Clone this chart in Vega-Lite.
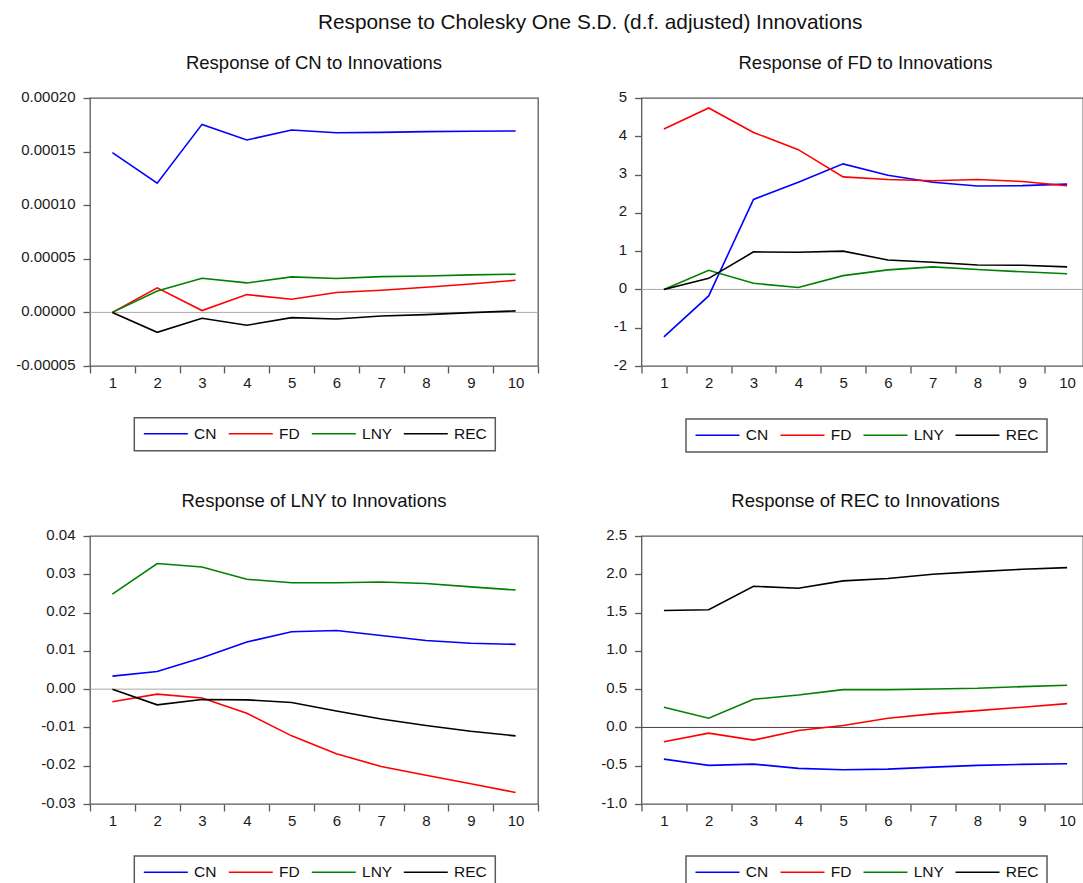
{
  "$schema": "https://vega.github.io/schema/vega-lite/v6.json",
  "autosize": {"type": "none"},
  "padding": {"left": 90, "top": 98, "right": 993, "bottom": 785},
  "title": {"text": "Response to Cholesky One S.D. (d.f. adjusted) Innovations", "fontSize": 20.8, "anchor": "start", "frame": "group", "dx": 228, "offset": 19},
  "config": {
    "font": "Liberation Sans",
    "view": {"stroke": "#5a5a5a", "strokeWidth": 1.3},
    "axis": {"grid": false, "domain": false, "tickColor": "#5a5a5a", "tickWidth": 1.3, "tickSize": 7, "labelFontSize": 15, "labelColor": "#1a1a1a", "labelFont": "Liberation Sans", "labelOverlap": false, "labelBound": false, "title": null},
    "axisY": {"labelPadding": 8, "labelOffset": -2},
    "axisX": {"labelPadding": 2, "labelFlush": false, "labelOffset": 22.4},
    "title": {"fontSize": 18.5, "fontWeight": "normal", "color": "#111111", "font": "Liberation Sans"},
    "legend": {"orient": "none", "direction": "horizontal", "columns": 4, "symbolType": "M-4,0H4", "symbolSize": 121, "symbolStrokeWidth": 1.5, "symbolOffset": 15.75, "labelOffset": 20.5, "columnPadding": 8, "padding": 8, "strokeColor": "#5a5a5a", "strokeWidth": 1.5, "labelFontSize": 15.5, "labelColor": "#111111", "labelFont": "Liberation Sans"}
  },
  "datasets": {
    "cn": [
      {"h":1,"s":"CN","v":0.000149},{"h":2,"s":"CN","v":0.0001206},{"h":3,"s":"CN","v":0.0001754},{"h":4,"s":"CN","v":0.0001608},{"h":5,"s":"CN","v":0.0001701},{"h":6,"s":"CN","v":0.0001676},{"h":7,"s":"CN","v":0.0001679},{"h":8,"s":"CN","v":0.0001686},{"h":9,"s":"CN","v":0.000169},{"h":10,"s":"CN","v":0.0001692},
      {"h":1,"s":"FD","v":0},{"h":2,"s":"FD","v":0.0000229},{"h":3,"s":"FD","v":0.0000017},{"h":4,"s":"FD","v":0.0000166},{"h":5,"s":"FD","v":0.0000123},{"h":6,"s":"FD","v":0.0000185},{"h":7,"s":"FD","v":0.0000207},{"h":8,"s":"FD","v":0.0000234},{"h":9,"s":"FD","v":0.0000265},{"h":10,"s":"FD","v":0.00003},
      {"h":1,"s":"LNY","v":0},{"h":2,"s":"LNY","v":0.00002},{"h":3,"s":"LNY","v":0.0000319},{"h":4,"s":"LNY","v":0.0000275},{"h":5,"s":"LNY","v":0.0000331},{"h":6,"s":"LNY","v":0.0000316},{"h":7,"s":"LNY","v":0.0000334},{"h":8,"s":"LNY","v":0.000034},{"h":9,"s":"LNY","v":0.000035},{"h":10,"s":"LNY","v":0.0000356},
      {"h":1,"s":"REC","v":0},{"h":2,"s":"REC","v":-0.0000186},{"h":3,"s":"REC","v":-0.0000055},{"h":4,"s":"REC","v":-0.000012},{"h":5,"s":"REC","v":-0.0000049},{"h":6,"s":"REC","v":-0.0000061},{"h":7,"s":"REC","v":-0.0000033},{"h":8,"s":"REC","v":-0.0000021},{"h":9,"s":"REC","v":-0.0000002},{"h":10,"s":"REC","v":0.0000014}
    ],
    "fd": [
      {"h":1,"s":"CN","v":-1.24},{"h":2,"s":"CN","v":-0.17},{"h":3,"s":"CN","v":2.35},{"h":4,"s":"CN","v":2.8},{"h":5,"s":"CN","v":3.28},{"h":6,"s":"CN","v":2.98},{"h":7,"s":"CN","v":2.8},{"h":8,"s":"CN","v":2.7},{"h":9,"s":"CN","v":2.71},{"h":10,"s":"CN","v":2.75},
      {"h":1,"s":"FD","v":4.19},{"h":2,"s":"FD","v":4.74},{"h":3,"s":"FD","v":4.1},{"h":4,"s":"FD","v":3.65},{"h":5,"s":"FD","v":2.94},{"h":6,"s":"FD","v":2.87},{"h":7,"s":"FD","v":2.84},{"h":8,"s":"FD","v":2.87},{"h":9,"s":"FD","v":2.82},{"h":10,"s":"FD","v":2.71},
      {"h":1,"s":"LNY","v":0},{"h":2,"s":"LNY","v":0.5},{"h":3,"s":"LNY","v":0.16},{"h":4,"s":"LNY","v":0.05},{"h":5,"s":"LNY","v":0.36},{"h":6,"s":"LNY","v":0.51},{"h":7,"s":"LNY","v":0.59},{"h":8,"s":"LNY","v":0.52},{"h":9,"s":"LNY","v":0.46},{"h":10,"s":"LNY","v":0.41},
      {"h":1,"s":"REC","v":0},{"h":2,"s":"REC","v":0.29},{"h":3,"s":"REC","v":0.98},{"h":4,"s":"REC","v":0.97},{"h":5,"s":"REC","v":1.0},{"h":6,"s":"REC","v":0.77},{"h":7,"s":"REC","v":0.71},{"h":8,"s":"REC","v":0.64},{"h":9,"s":"REC","v":0.63},{"h":10,"s":"REC","v":0.59}
    ],
    "lny": [
      {"h":1,"s":"CN","v":0.0034},{"h":2,"s":"CN","v":0.0046},{"h":3,"s":"CN","v":0.0082},{"h":4,"s":"CN","v":0.0123},{"h":5,"s":"CN","v":0.015},{"h":6,"s":"CN","v":0.0153},{"h":7,"s":"CN","v":0.014},{"h":8,"s":"CN","v":0.0127},{"h":9,"s":"CN","v":0.012},{"h":10,"s":"CN","v":0.0117},
      {"h":1,"s":"FD","v":-0.0033},{"h":2,"s":"FD","v":-0.0013},{"h":3,"s":"FD","v":-0.0023},{"h":4,"s":"FD","v":-0.0063},{"h":5,"s":"FD","v":-0.0122},{"h":6,"s":"FD","v":-0.0169},{"h":7,"s":"FD","v":-0.0202},{"h":8,"s":"FD","v":-0.0225},{"h":9,"s":"FD","v":-0.0247},{"h":10,"s":"FD","v":-0.027},
      {"h":1,"s":"LNY","v":0.0248},{"h":2,"s":"LNY","v":0.0328},{"h":3,"s":"LNY","v":0.0319},{"h":4,"s":"LNY","v":0.0287},{"h":5,"s":"LNY","v":0.0278},{"h":6,"s":"LNY","v":0.0278},{"h":7,"s":"LNY","v":0.028},{"h":8,"s":"LNY","v":0.0276},{"h":9,"s":"LNY","v":0.0267},{"h":10,"s":"LNY","v":0.0259},
      {"h":1,"s":"REC","v":0},{"h":2,"s":"REC","v":-0.0041},{"h":3,"s":"REC","v":-0.0027},{"h":4,"s":"REC","v":-0.0028},{"h":5,"s":"REC","v":-0.0035},{"h":6,"s":"REC","v":-0.0057},{"h":7,"s":"REC","v":-0.0078},{"h":8,"s":"REC","v":-0.0095},{"h":9,"s":"REC","v":-0.011},{"h":10,"s":"REC","v":-0.0122}
    ],
    "rec": [
      {"h":1,"s":"CN","v":-0.414},{"h":2,"s":"CN","v":-0.496},{"h":3,"s":"CN","v":-0.479},{"h":4,"s":"CN","v":-0.535},{"h":5,"s":"CN","v":-0.553},{"h":6,"s":"CN","v":-0.544},{"h":7,"s":"CN","v":-0.518},{"h":8,"s":"CN","v":-0.496},{"h":9,"s":"CN","v":-0.483},{"h":10,"s":"CN","v":-0.474},
      {"h":1,"s":"FD","v":-0.188},{"h":2,"s":"FD","v":-0.075},{"h":3,"s":"FD","v":-0.166},{"h":4,"s":"FD","v":-0.04},{"h":5,"s":"FD","v":0.025},{"h":6,"s":"FD","v":0.12},{"h":7,"s":"FD","v":0.177},{"h":8,"s":"FD","v":0.22},{"h":9,"s":"FD","v":0.264},{"h":10,"s":"FD","v":0.311},
      {"h":1,"s":"LNY","v":0.264},{"h":2,"s":"LNY","v":0.12},{"h":3,"s":"LNY","v":0.368},{"h":4,"s":"LNY","v":0.424},{"h":5,"s":"LNY","v":0.494},{"h":6,"s":"LNY","v":0.494},{"h":7,"s":"LNY","v":0.502},{"h":8,"s":"LNY","v":0.511},{"h":9,"s":"LNY","v":0.533},{"h":10,"s":"LNY","v":0.55},
      {"h":1,"s":"REC","v":1.527},{"h":2,"s":"REC","v":1.536},{"h":3,"s":"REC","v":1.844},{"h":4,"s":"REC","v":1.818},{"h":5,"s":"REC","v":1.914},{"h":6,"s":"REC","v":1.944},{"h":7,"s":"REC","v":2.0},{"h":8,"s":"REC","v":2.035},{"h":9,"s":"REC","v":2.065},{"h":10,"s":"REC","v":2.087}
    ]
  },
  "columns": 2,
  "bounds": "flush",
  "spacing": {"row": 170, "column": 103.5},
  "resolve": {"scale": {"x": "independent", "y": "independent", "color": "independent"}, "legend": {"color": "independent"}},
  "concat": [
    {
      "width": 448, "height": 268,
      "title": {"text": "Response of CN to Innovations", "frame": "group", "anchor": "middle", "offset": 17},
      "layer": [
        {"data": {"values": [{}]}, "mark": {"type": "rule", "color": "#a8a8a8", "strokeWidth": 1},
          "encoding": {"y": {"datum": 0, "type": "quantitative", "scale": {"domain": [-0.00005, 0.0002], "nice": false, "zero": false}, "axis": {"values": [-0.00005, 0, 0.00005, 0.0001, 0.00015, 0.0002], "labelExpr": "replace(format(datum.value, '.5f'), '\u2212', '-')"}}}},
        {"data": {"name": "cn"}, "mark": {"type": "line", "strokeWidth": 1.6},
          "encoding": {
            "x": {"field": "h", "type": "quantitative", "scale": {"domain": [0.5, 10.5], "nice": false, "zero": false}, "axis": {"values": [0.5,1.5,2.5,3.5,4.5,5.5,6.5,7.5,8.5,9.5,10.5], "labelExpr": "datum.value < 10 ? format(datum.value + 0.5, 'd') : ''"}},
            "y": {"field": "v", "type": "quantitative", "scale": {"domain": [-0.00005, 0.0002], "nice": false, "zero": false}, "axis": {"values": [-0.00005, 0, 0.00005, 0.0001, 0.00015, 0.0002], "labelExpr": "replace(format(datum.value, '.5f'), '\u2212', '-')"}},
            "color": {"field": "s", "type": "nominal", "scale": {"domain": ["CN","FD","LNY","REC"], "range": ["#0000ff","#ff0000","#008000","#000000"]}, "legend": {"title": null, "legendX": 44.3, "legendY": 319.7}}
          }
        }
      ]
    },
    {
      "width": 441.5, "height": 268,
      "title": {"text": "Response of FD to Innovations", "frame": "group", "anchor": "middle", "offset": 17, "dx": 3.25},
      "layer": [
        {"data": {"values": [{}]}, "mark": {"type": "rule", "color": "#a8a8a8", "strokeWidth": 1},
          "encoding": {"y": {"datum": 0, "type": "quantitative", "scale": {"domain": [-2, 5], "nice": false, "zero": false}, "axis": {"values": [-2,-1,0,1,2,3,4,5], "labelExpr": "replace(format(datum.value, 'd'), '\u2212', '-')"}}}},
        {"data": {"name": "fd"}, "mark": {"type": "line", "strokeWidth": 1.6},
          "encoding": {
            "x": {"field": "h", "type": "quantitative", "scale": {"domain": [0.5, 10.355], "nice": false, "zero": false}, "axis": {"values": [0.5,1.5,2.5,3.5,4.5,5.5,6.5,7.5,8.5,9.5], "labelExpr": "format(datum.value + 0.5, 'd')"}},
            "y": {"field": "v", "type": "quantitative", "scale": {"domain": [-2, 5], "nice": false, "zero": false}, "axis": {"values": [-2,-1,0,1,2,3,4,5], "labelExpr": "replace(format(datum.value, 'd'), '\u2212', '-')"}},
            "color": {"field": "s", "type": "nominal", "scale": {"domain": ["CN","FD","LNY","REC"], "range": ["#0000ff","#ff0000","#008000","#000000"]}, "legend": {"title": null, "legendX": 44.5, "legendY": 321}}
          }
        }
      ]
    },
    {
      "width": 448, "height": 268,
      "title": {"text": "Response of LNY to Innovations", "frame": "group", "anchor": "middle", "offset": 17},
      "layer": [
        {"data": {"values": [{}]}, "mark": {"type": "rule", "color": "#a8a8a8", "strokeWidth": 1},
          "encoding": {"y": {"datum": 0, "type": "quantitative", "scale": {"domain": [-0.03, 0.04], "nice": false, "zero": false}, "axis": {"values": [-0.03,-0.02,-0.01,0,0.01,0.02,0.03,0.04], "labelExpr": "replace(format(datum.value, '.2f'), '\u2212', '-')"}}}},
        {"data": {"name": "lny"}, "mark": {"type": "line", "strokeWidth": 1.6},
          "encoding": {
            "x": {"field": "h", "type": "quantitative", "scale": {"domain": [0.5, 10.5], "nice": false, "zero": false}, "axis": {"values": [0.5,1.5,2.5,3.5,4.5,5.5,6.5,7.5,8.5,9.5,10.5], "labelExpr": "datum.value < 10 ? format(datum.value + 0.5, 'd') : ''"}},
            "y": {"field": "v", "type": "quantitative", "scale": {"domain": [-0.03, 0.04], "nice": false, "zero": false}, "axis": {"values": [-0.03,-0.02,-0.01,0,0.01,0.02,0.03,0.04], "labelExpr": "replace(format(datum.value, '.2f'), '\u2212', '-')"}},
            "color": {"field": "s", "type": "nominal", "scale": {"domain": ["CN","FD","LNY","REC"], "range": ["#0000ff","#ff0000","#008000","#000000"]}, "legend": {"title": null, "legendX": 44.3, "legendY": 320}}
          }
        }
      ]
    },
    {
      "width": 441.5, "height": 268,
      "title": {"text": "Response of REC to Innovations", "frame": "group", "anchor": "middle", "offset": 17, "dx": 3.25},
      "layer": [
        {"data": {"values": [{}]}, "mark": {"type": "rule", "color": "#404040", "strokeWidth": 1},
          "encoding": {"y": {"datum": 0, "type": "quantitative", "scale": {"domain": [-1, 2.5], "nice": false, "zero": false}, "axis": {"values": [-1,-0.5,0,0.5,1,1.5,2,2.5], "labelExpr": "replace(format(datum.value, '.1f'), '\u2212', '-')"}}}},
        {"data": {"name": "rec"}, "mark": {"type": "line", "strokeWidth": 1.6},
          "encoding": {
            "x": {"field": "h", "type": "quantitative", "scale": {"domain": [0.5, 10.355], "nice": false, "zero": false}, "axis": {"values": [0.5,1.5,2.5,3.5,4.5,5.5,6.5,7.5,8.5,9.5], "labelExpr": "format(datum.value + 0.5, 'd')"}},
            "y": {"field": "v", "type": "quantitative", "scale": {"domain": [-1, 2.5], "nice": false, "zero": false}, "axis": {"values": [-1,-0.5,0,0.5,1,1.5,2,2.5], "labelExpr": "replace(format(datum.value, '.1f'), '\u2212', '-')"}},
            "color": {"field": "s", "type": "nominal", "scale": {"domain": ["CN","FD","LNY","REC"], "range": ["#0000ff","#ff0000","#008000","#000000"]}, "legend": {"title": null, "legendX": 44.5, "legendY": 320}}
          }
        }
      ]
    }
  ]
}
